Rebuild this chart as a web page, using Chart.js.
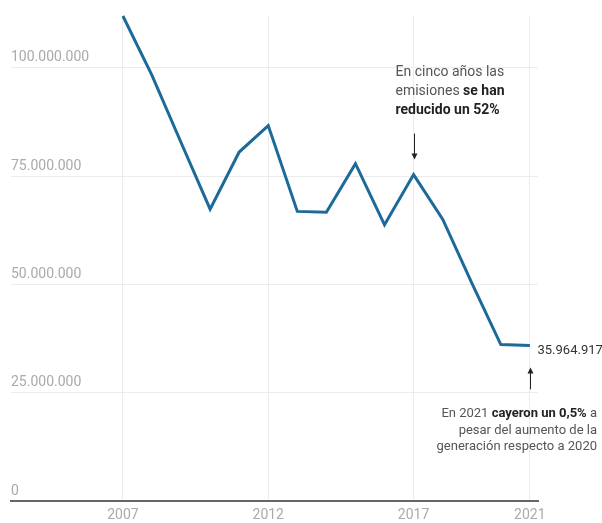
<!DOCTYPE html>
<html>
<head>
<meta charset="utf-8">
<script src="https://cdn.jsdelivr.net/npm/chart.js@4"></script>
<style>
  html, body { margin: 0; padding: 0; background: #fff; }
  #wrap { width: 602px; height: 523px; }
</style>
</head>
<body>
<div id="wrap"><canvas id="emisiones" width="602" height="523"></canvas></div>
<script>
// --- Data ---
const years = [2007, 2008, 2009, 2010, 2011, 2012, 2013, 2014, 2015, 2016, 2017, 2018, 2019, 2020, 2021];
const emissions = [112000000, 98300000, 82800000, 67400000, 80600000, 86700000, 66900000, 66700000,
                   77900000, 63800000, 75400000, 65100000, 50400000, 36146600, 35964917];
const xTickYears = [2007, 2012, 2017, 2021];
const yTickValues = [0, 25000000, 50000000, 75000000, 100000000];
const lastLabel = '35.964.917';

const FONT = 'Roboto, "Noto Sans", sans-serif';
const fmt = v => String(v).replace(/\B(?=(\d{3})+(?!\d))/g, '.');

// draw a line made of [text, bold] pieces
function drawRich(ctx, parts, x, y, align, size) {
    let total = 0;
    parts.forEach(p => {
        ctx.font = (p[1] ? 'bold ' : '') + size + 'px ' + FONT;
        total += ctx.measureText(p[0]).width;
    });
    let cx = align === 'right' ? x - total : x;
    ctx.textAlign = 'left';
    ctx.textBaseline = 'middle';
    parts.forEach(p => {
        ctx.font = (p[1] ? 'bold ' : '') + size + 'px ' + FONT;
        ctx.fillStyle = p[1] ? '#222' : '#555';
        ctx.fillText(p[0], cx, y);
        cx += ctx.measureText(p[0]).width;
    });
}

function arrow(ctx, x, y1, y2) {
    // line from y1 to tip at y2
    const dir = y2 > y1 ? 1 : -1;
    ctx.strokeStyle = '#222';
    ctx.fillStyle = '#222';
    ctx.lineWidth = 1;
    ctx.beginPath();
    ctx.moveTo(x, y1);
    ctx.lineTo(x, y2 - dir * 4);
    ctx.stroke();
    ctx.beginPath();
    ctx.moveTo(x, y2);
    ctx.lineTo(x - 3, y2 - dir * 6);
    ctx.lineTo(x + 3, y2 - dir * 6);
    ctx.closePath();
    ctx.fill();
}

const annotationPlugin = {
    id: 'annotations',
    afterDraw(chart) {
        const ctx = chart.ctx;
        const xs = chart.scales.x;
        const ys = chart.scales.y;
        ctx.save();

        // 2017 note
        const x17 = Math.round(xs.getPixelForValue(2017)) + 0.5;
        const y17 = ys.getPixelForValue(emissions[years.indexOf(2017)]);
        arrow(ctx, x17, y17 - 41, y17 - 15);
        const left17 = x17 - 19;
        drawRich(ctx, [['En cinco años las', false]], left17, y17 - 102, 'left', 14);
        drawRich(ctx, [['emisiones ', false], ['se han', true]], left17, y17 - 83, 'left', 14);
        drawRich(ctx, [['reducido un 52%', true]], left17, y17 - 64, 'left', 14);

        // 2021 note
        const x21 = Math.round(xs.getPixelForValue(2021)) + 0.5;
        const y21 = ys.getPixelForValue(emissions[emissions.length - 1]);
        ctx.font = '13px ' + FONT;
        ctx.fillStyle = '#333';
        ctx.textAlign = 'left';
        ctx.textBaseline = 'middle';
        ctx.fillText(lastLabel, x21 + 7, y21 + 5);
        arrow(ctx, x21, y21 + 44, y21 + 22);
        const right21 = 597;
        drawRich(ctx, [['En 2021 ', false], ['cayeron un 0,5%', true], [' a', false]], right21, y21 + 68, 'right', 13);
        drawRich(ctx, [['pesar del aumento de la', false]], right21, y21 + 85, 'right', 13);
        drawRich(ctx, [['generación respecto a 2020', false]], right21, y21 + 101, 'right', 13);

        ctx.restore();
    }
};

const ctx = document.getElementById('emisiones').getContext('2d');

new Chart(ctx, {
    type: 'line',
    data: {
        datasets: [{
            label: 'Emisiones',
            data: years.map((y, i) => ({ x: y, y: emissions[i] })),
            borderColor: '#1d6a9a',
            borderWidth: 3,
            pointRadius: 0,
            tension: 0,
            clip: false
        }]
    },
    options: {
        responsive: false,
        animation: false,
        layout: { padding: { left: 11, right: 64, top: 16, bottom: -7 } },
        plugins: {
            legend: { display: false },
            tooltip: { enabled: false }
        },
        scales: {
            x: {
                type: 'linear',
                min: 2003.15,
                max: 2021.28,
                afterBuildTicks: axis => { axis.ticks = xTickYears.map(v => ({ value: v })); },
                grid: { color: '#ececec', lineWidth: 1, drawTicks: false },
                border: { display: true, color: '#666', width: 2 },
                ticks: {
                    color: '#aaa',
                    font: { family: FONT, size: 14 },
                    padding: 6,
                    maxRotation: 0,
                    callback: v => String(v)
                }
            },
            y: {
                min: 0,
                max: 112000000,
                afterBuildTicks: axis => { axis.ticks = yTickValues.map(v => ({ value: v })); },
                grid: { color: '#ececec', lineWidth: 1, drawTicks: false },
                border: { display: false },
                ticks: {
                    mirror: true,
                    padding: 0,
                    labelOffset: -10,
                    color: '#aaa',
                    font: { family: FONT, size: 14 },
                    callback: v => fmt(v)
                }
            }
        }
    },
    plugins: [annotationPlugin]
});
</script>
</body>
</html>
